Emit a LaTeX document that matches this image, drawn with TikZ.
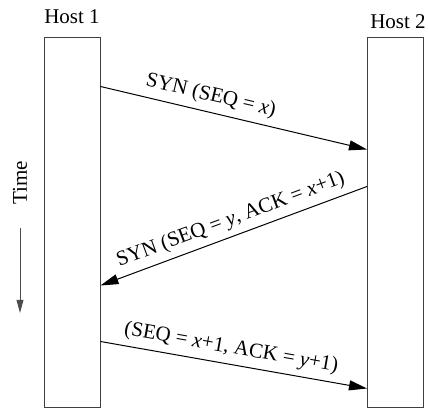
\documentclass[tikz,border=0pt]{standalone}
\usepackage{fontspec}
\setmainfont{Liberation Serif}
\usetikzlibrary{arrows.meta,calc}
\begin{document}
\begin{tikzpicture}[x=0.5pt,y=-0.5pt,
  hostbox/.style={draw=black!75,line width=0.5pt,minimum width=28pt,minimum height=185pt,inner sep=0pt},
  hostlabel/.style={font=\fontsize{10.5}{12}\selectfont,inner sep=0pt},
  msg/.style={line width=0.5pt,-{Triangle[length=9pt,width=5pt]}},
  timearrow/.style={line width=0.5pt,draw=black!70,-{Triangle[length=6.5pt,width=3.4pt]}},
  msglabel/.style={font=\fontsize{10.5}{12}\selectfont,sloped,above,inner sep=3pt}]
\useasboundingbox (0,0) rectangle (428,410);
\node[hostbox] (h1) at (72,223) {};
\node[hostbox] (h2) at (395.5,223) {};
\node[hostlabel] (l1) at (72,17) {Host 1};
\node[hostlabel] (l2) at (398,22) {Host 2};
\coordinate (s1) at ($(h1.north east)+(0,49)$);
\coordinate (e1) at ($(h2.north west)+(0,112)$);
\coordinate (s2) at ($(h2.north west)+(0,149)$);
\coordinate (e2) at ($(h1.north east)+(0,248)$);
\coordinate (s3) at ($(h1.north east)+(0,304)$);
\coordinate (e3) at ($(h2.north west)+(0,351)$);
\draw[msg] (s1) -- node[msglabel,pos=0.4] {SYN (SEQ = \textit{x})} (e1);
\draw[msg,{Triangle[length=9pt,width=5pt]}-] (e2) -- node[msglabel,pos=0.51] {SYN (SEQ = \textit{y}, ACK = \textit{x}+1)} (s2);
\draw[msg] (s3) -- node[msglabel,pos=0.48] {(SEQ = \textit{x}+1, ACK = \textit{y}+1)} (e3);
\node[hostlabel,rotate=90] (tl) at (20,183) {Time};
\coordinate (t1) at (20,228);
\coordinate (t2) at (20,313);
\draw[timearrow] (t1) -- (t2);
\end{tikzpicture}
\end{document}
